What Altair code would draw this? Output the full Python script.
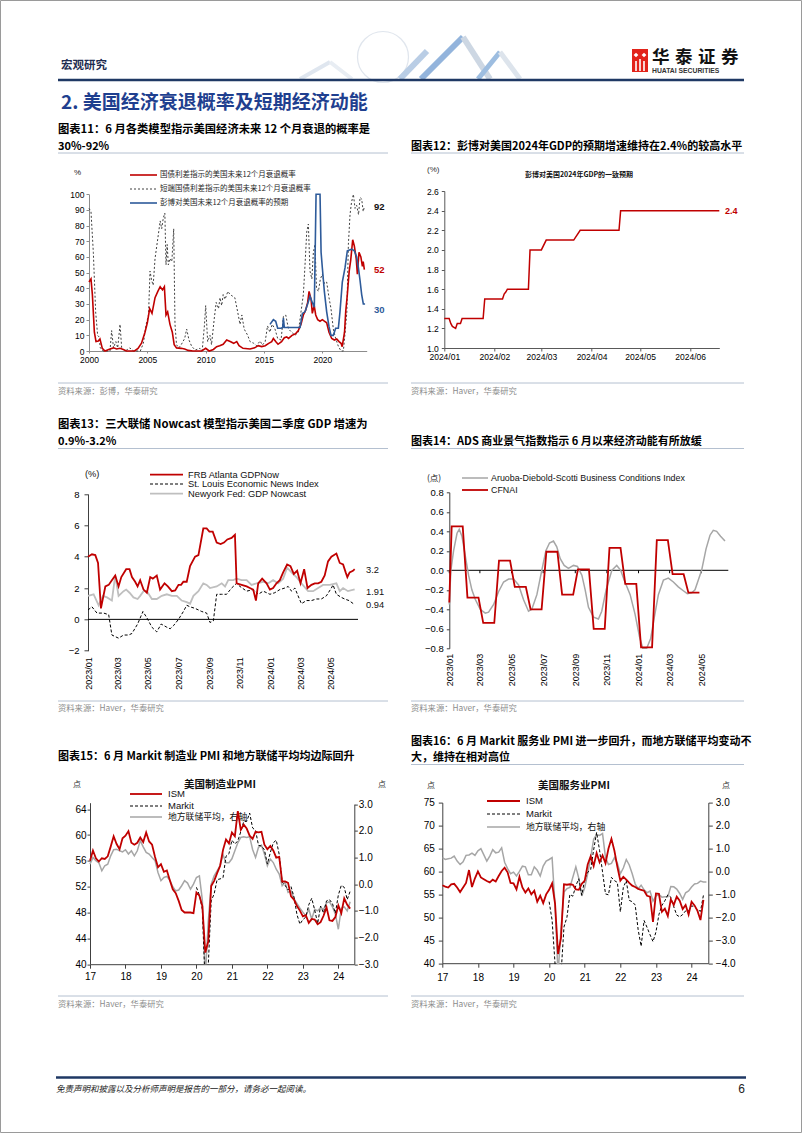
import altair as alt
import numpy as np
import pandas as pd

CJK = "Noto Sans CJK SC"
LAT = "Liberation Sans"
RED = "#c00000"
NAVY = "#1f3864"
GRAYL = "#a6a6a6"

# ---------------- Fig.11 : recession probability (year, %) ----------------
RATE_SPREAD_PROB = [(2000.0,44),(2000.17,46),(2000.29,36),(2000.46,12),(2000.6,6),(2000.8,6.4),(2000.94,7.7),(2001.14,1.7),(2001.37,0),(2001.8,1.3),(2002.1,2),(2002.37,1.3),(2002.66,1.7),(2002.94,0.9),(2003.2,0),(2003.9,0),(2004.2,1.7),(2004.5,5),(2004.8,12),(2005.0,18),(2005.2,27),(2005.4,24),(2005.66,34),(2005.9,38),(2006.1,41),(2006.3,39),(2006.46,41),(2006.6,23),(2006.74,25),(2006.94,17),(2007.14,12),(2007.3,4),(2007.5,2),(2007.9,1.7),(2008.2,1.3),(2008.5,0.4),(2008.9,0),(2009.66,0),(2010.0,1.7),(2010.3,0),(2010.66,1),(2010.94,2.8),(2011.2,3.4),(2011.5,4.3),(2011.8,7),(2012.1,6),(2012.4,4.9),(2012.66,6),(2012.86,3.4),(2013.2,1.7),(2013.8,1.3),(2014.2,2),(2014.5,3.4),(2014.8,2.8),(2015.1,3.4),(2015.4,4.9),(2015.66,6),(2015.8,8),(2016.0,6),(2016.2,4.3),(2016.5,6),(2016.74,8.5),(2016.94,9),(2017.1,8),(2017.4,10),(2017.7,11),(2017.94,13),(2018.17,17),(2018.37,23),(2018.57,26),(2018.74,31),(2018.86,38),(2019.03,33),(2019.14,24),(2019.3,29),(2019.43,23),(2019.6,20),(2019.8,19),(2020.0,20),(2020.17,19),(2020.37,18),(2020.57,12),(2020.8,8),(2021.03,7),(2021.23,7.7),(2021.43,6),(2021.6,4.9),(2021.7,2.8),(2021.9,12),(2022.0,25),(2022.14,36),(2022.3,51),(2022.43,58),(2022.6,71),(2022.74,67),(2022.9,59),(2023.0,49),(2023.14,63),(2023.3,60),(2023.43,54),(2023.5,57),(2023.6,52)]
SHORT_SPREAD_PROB = [(2000.0,91),(2000.17,89),(2000.37,63),(2000.57,25),(2000.74,10),(2000.86,9),(2000.97,2),(2001.2,0),(2001.8,0),(2001.94,13),(2002.1,2),(2002.3,6),(2002.46,2),(2002.66,17),(2002.8,2),(2003.1,0),(2003.5,2),(2003.8,0),(2004.4,0),(2004.66,5),(2004.9,17),(2005.1,23),(2005.23,51),(2005.37,45),(2005.5,42),(2005.66,59),(2005.9,72),(2006.1,83),(2006.23,78),(2006.37,85),(2006.5,88),(2006.6,55),(2006.7,68),(2006.8,55),(2006.94,59),(2007.1,57),(2007.26,78),(2007.37,17),(2007.5,4),(2007.7,2),(2007.9,4),(2008.2,8),(2008.37,14),(2008.57,7),(2008.8,3),(2009.1,0.6),(2009.5,1.7),(2009.7,0),(2009.9,17),(2010.0,29),(2010.17,6),(2010.37,10),(2010.5,4),(2010.74,21),(2010.9,31),(2011.1,27),(2011.23,34),(2011.37,29),(2011.5,36),(2011.66,33),(2011.9,38),(2012.1,36),(2012.3,35),(2012.5,34),(2012.74,25),(2012.94,17),(2013.1,23),(2013.3,14),(2013.6,10),(2013.8,6),(2014.1,5),(2014.37,3.4),(2014.66,6.4),(2014.86,3.8),(2015.1,6),(2015.3,16),(2015.5,12),(2015.7,17),(2015.94,14),(2016.17,8),(2016.46,7),(2016.66,22),(2016.86,23),(2017.1,14),(2017.37,12),(2017.66,10),(2017.94,12),(2018.17,25),(2018.37,36),(2018.5,53),(2018.66,76),(2018.8,81),(2018.94,51),(2019.1,46),(2019.23,63),(2019.37,68),(2019.5,40),(2019.66,38),(2019.83,46),(2020.0,49),(2020.17,43),(2020.37,44),(2020.57,34),(2020.74,27),(2020.94,14),(2021.14,8),(2021.37,3),(2021.6,0),(2021.8,0),(2021.94,11),(2022.1,25),(2022.23,68),(2022.37,87),(2022.5,95),(2022.66,100),(2022.8,91),(2022.94,93),(2023.1,87),(2023.23,98),(2023.37,97),(2023.5,89),(2023.6,92)]
BBG_PROB = [(2015.51,17),(2015.8,20),(2016.0,19),(2016.17,14.5),(2016.46,14.5),(2016.6,15),(2016.66,21),(2016.74,15),(2018.09,15),(2018.29,24),(2018.51,25),(2018.74,30),(2018.94,35),(2019.14,31),(2019.31,28),(2019.46,100),(2019.8,100),(2019.89,63),(2020.0,53),(2020.17,38),(2020.37,25),(2020.57,15.5),(2020.74,10),(2020.94,10),(2021.14,14.5),(2021.37,14.5),(2021.51,25),(2021.71,44),(2021.94,53),(2022.14,64),(2022.51,65),(2022.74,64),(2022.94,60),(2023.09,53),(2023.23,45),(2023.37,36),(2023.51,30),(2023.66,30)]

# ---------------- Fig.12 : Bloomberg consensus 2024 GDP (%) ----------------
GDP_DATES = ["2024-01-01","2024-01-04","2024-01-05","2024-01-06","2024-01-08","2024-01-09","2024-01-11","2024-01-12","2024-01-25","2024-01-26","2024-02-06","2024-02-07","2024-02-08","2024-02-09","2024-02-22","2024-02-23","2024-03-01","2024-03-04","2024-03-21","2024-03-25","2024-04-18","2024-04-19","2024-06-19"]
GDP_VALUES = [1.3,1.3,1.25,1.22,1.2,1.25,1.25,1.3,1.3,1.5,1.5,1.55,1.57,1.6,1.6,2.0,2.0,2.1,2.1,2.2,2.2,2.4,2.4]

# ---------------- Fig.13 : Nowcasts (months since 2023/01, %) ----------------
ATL_GDPNOW = [(0.0,4.0),(0.26,4.15),(0.48,4.1),(0.66,3.6),(0.85,0.7),(1.14,2.1),(1.36,2.2),(1.57,2.5),(1.79,2.8),(2.01,2.1),(2.19,2.7),(2.51,3.2),(2.73,3.2),(2.89,2.7),(3.10,2.4),(3.26,2.1),(3.43,2.5),(3.65,1.9),(3.87,1.7),(4.09,2.7),(4.26,2.6),(4.52,2.8),(4.74,1.9),(5.03,2.3),(5.25,2.1),(5.51,1.8),(5.73,1.85),(5.95,2.2),(6.12,2.2),(6.27,2.4),(6.49,2.4),(6.71,3.4),(7.04,4.0),(7.26,4.1),(7.58,5.8),(7.80,5.8),(7.98,5.6),(8.20,5.6),(8.46,4.9),(8.72,4.8),(8.94,4.9),(9.16,5.1),(9.44,5.2),(9.66,5.4),(9.77,2.3),(10.10,2.2),(10.43,2.1),(10.64,2.0),(10.86,1.9),(11.04,1.2),(11.19,2.3),(11.45,2.6),(11.74,2.3),(11.96,1.9),(12.17,2.0),(12.39,2.3),(12.61,2.5),(12.83,3.0),(13.09,3.5),(13.31,3.4),(13.53,2.9),(13.75,3.1),(13.97,2.3),(14.21,3.2),(14.43,2.0),(14.69,2.2),(14.91,2.3),(15.13,2.3),(15.34,2.4),(15.56,2.8),(15.78,3.7),(16.0,4.0),(16.33,4.2),(16.55,3.6),(16.77,3.5),(16.94,3.0),(17.05,2.7),(17.20,3.0),(17.42,3.1),(17.53,3.2)]
STL_NEWS = [(0.0,0.6),(0.26,0.8),(0.59,0.4),(1.03,0.4),(1.36,0.3),(1.57,-1.0),(1.79,-1.1),(2.01,-1.2),(2.34,-1.0),(2.67,-1.0),(2.89,-0.9),(3.26,-0.3),(3.61,0.5),(3.87,0.1),(4.20,-0.5),(4.52,-0.8),(4.81,-0.3),(5.18,-0.5),(5.40,-0.6),(5.62,-0.4),(5.95,0.0),(6.27,0.5),(6.49,0.9),(6.71,0.8),(7.04,0.7),(7.48,0.5),(7.80,0.4),(8.02,-0.2),(8.24,-0.1),(8.46,1.6),(8.79,1.6),(9.11,1.6),(9.44,2.0),(9.77,2.3),(9.99,2.1),(10.43,1.8),(10.86,1.9),(11.19,1.6),(11.52,1.8),(11.96,1.6),(12.28,1.7),(12.61,1.9),(12.94,2.0),(13.16,2.1),(13.38,1.8),(13.60,2.0),(13.81,1.5),(14.03,1.0),(14.36,1.2),(14.69,1.2),(15.02,1.3),(15.34,1.3),(15.67,1.5),(16.0,2.0),(16.11,2.2),(16.33,1.6),(16.66,1.4),(16.87,1.3),(17.16,1.2),(17.53,0.94)]
NY_NOWCAST = [(0.0,1.5),(0.37,1.6),(0.70,0.9),(0.98,1.5),(1.25,1.4),(1.57,1.2),(1.79,2.8),(2.01,1.5),(2.34,1.8),(2.51,1.9),(2.73,1.7),(2.99,1.4),(3.26,1.3),(3.43,1.5),(3.65,1.8),(3.87,1.8),(4.20,1.3),(4.52,1.3),(4.85,1.5),(5.18,1.6),(5.51,1.5),(5.84,1.5),(6.16,1.2),(6.49,1.1),(6.71,1.0),(6.93,1.5),(7.26,1.8),(7.58,2.3),(7.80,2.2),(8.02,2.0),(8.46,2.1),(8.79,2.3),(9.01,2.1),(9.22,2.5),(9.55,2.5),(9.77,2.6),(10.10,2.5),(10.43,2.5),(10.75,2.2),(11.08,2.3),(11.52,2.4),(11.85,2.3),(12.17,2.5),(12.50,2.3),(12.83,2.6),(13.09,3.3),(13.38,3.0),(13.70,2.7),(14.03,2.3),(14.47,1.8),(14.80,1.8),(15.13,2.0),(15.45,2.2),(15.89,2.2),(16.33,2.3),(16.55,1.8),(16.77,2.0),(17.09,1.8),(17.53,1.91)]

# ---------------- Fig.14 : ADS and CFNAI ----------------
ADS_INDEX = [(0.0,-0.35),(0.1,0.0),(0.27,0.2),(0.49,0.38),(0.63,0.42),(0.80,0.35),(1.01,0.15),(1.22,-0.05),(1.43,-0.2),(1.65,-0.3),(1.96,-0.4),(2.28,-0.44),(2.49,-0.43),(2.81,-0.35),(3.12,-0.22),(3.44,-0.12),(3.76,-0.09),(4.07,-0.09),(4.39,-0.15),(4.70,-0.3),(5.02,-0.42),(5.23,-0.4),(5.55,-0.25),(5.86,0.0),(6.12,0.2),(6.35,0.28),(6.60,0.3),(6.81,0.24),(7.03,0.12),(7.28,0.05),(7.55,0.02),(7.87,0.05),(8.12,0.04),(8.40,-0.05),(8.61,-0.2),(8.82,-0.38),(9.14,-0.48),(9.45,-0.5),(9.66,-0.42),(9.94,-0.2),(10.30,0.0),(10.61,0.05),(10.86,0.0),(11.08,-0.1),(11.46,-0.25),(11.77,-0.45),(12.05,-0.68),(12.26,-0.8),(12.51,-0.8),(12.76,-0.7),(12.97,-0.5),(13.25,-0.25),(13.57,-0.1),(13.88,-0.08),(14.20,-0.12),(14.51,-0.17),(14.83,-0.21),(15.08,-0.24),(15.36,-0.23),(15.57,-0.2),(15.78,-0.1),(15.99,0.0),(16.27,0.22),(16.52,0.36),(16.73,0.41),(16.94,0.4),(17.19,0.35),(17.47,0.3)]
CFNAI_DEC22 = -0.33
CFNAI_MONTHLY = [0.45,-0.28,-0.54,0.10,-0.17,-0.40,0.19,-0.25,0.01,-0.60,0.23,-0.14,-0.79,0.31,-0.04,-0.23]

# ---------------- Fig.15 : manufacturing PMI, monthly from 2017/01 ----------------
ISM_MFG = [56.0,57.6,56.4,55.9,56.4,56.3,56.7,58.2,59.8,58.6,57.8,59.5,
           59.9,60.6,58.8,58.5,58.8,59.6,58.9,60.4,59.0,58.5,56.6,55.0,
           55.5,54.3,54.5,53.0,51.6,51.0,49.8,48.4,48.0,48.0,48.0,47.9,
           51.1,50.6,49.0,41.8,43.5,52.1,52.9,54.1,55.2,57.7,59.3,58.7,
           60.4,59.8,63.7,60.8,61.6,61.0,59.9,59.4,60.5,60.4,60.5,58.5,
           57.8,58.3,57.6,56.5,56.6,52.8,52.8,52.6,50.5,50.0,49.0,48.3,
           47.4,47.6,46.4,47.0,46.9,46.2,46.5,47.5,48.8,46.8,46.7,47.3,
           49.1,47.9,50.2,49.2,48.6]
MARKIT_MFG_FROM_2020 = [51.9,50.7,48.5,36.1,39.8,49.8,50.9,53.1,53.2,53.4,56.7,57.1,
                        59.2,58.6,59.1,60.5,62.1,62.1,63.4,61.1,60.7,58.4,58.3,57.7,
                        55.5,57.3,58.8,59.2,57.0,52.7,52.2,51.5,52.0,50.4,47.7,46.2,
                        46.9,47.3,49.2,50.2,48.4,46.3,49.0,47.9,49.8,50.0,49.4,47.9,
                        50.7,52.2,51.9,50.0,51.3]
FED_MFG = [0.75,1.0,0.88,0.8,0.5,0.69,0.75,1.06,1.29,1.31,1.25,1.21,
           1.29,1.13,1.25,1.06,1.25,1.63,1.4,1.19,1.13,1.0,0.88,0.44,
           0.13,0.25,0.29,0.15,-0.1,-0.25,-0.22,-0.06,0.13,0.04,-0.19,0.0,
           0.25,0.31,-0.6,-3.5,-1.4,0.0,0.31,0.5,0.69,1.1,0.8,0.8,
           0.95,1.25,1.55,1.75,1.78,1.75,1.78,1.3,1.0,1.38,1.46,1.13,
           0.69,0.94,0.81,0.56,0.38,-0.06,0.06,-0.31,-0.25,-0.55,-0.72,-0.9,
           -1.05,-1.19,-0.94,-1.31,-0.94,-1.0,-0.88,-0.95,-0.7,-0.66,-0.85,-1.13,
           -1.69,-0.9,-0.85,-1.0,-0.66]

# ---------------- Fig.16 : services PMI, monthly from 2017/01 ----------------
ISM_SVC = [57.0,56.7,56.5,57.2,57.3,56.5,55.5,56.5,57.5,60.3,56.6,58.5,
           60.0,58.7,58.3,57.9,57.6,58.2,57.8,59.0,60.1,60.8,59.8,57.5,
           57.4,56.1,58.8,56.5,55.4,56.3,55.0,55.8,53.4,54.7,53.1,55.0,
           56.0,57.4,53.0,42.0,45.5,57.2,57.1,57.2,57.1,56.1,56.0,57.3,
           58.0,61.5,63.3,61.2,64.0,62.0,63.5,61.8,65.0,67.1,64.5,61.0,
           58.0,58.8,58.2,57.5,56.9,56.6,56.2,56.0,55.8,54.7,54.5,49.0,
           55.2,55.1,51.2,51.9,50.3,53.9,52.7,54.5,53.6,51.8,52.7,50.6,
           53.4,52.6,51.4,49.4,53.8]
MARKIT_SVC_FROM_2020 = [53.4,49.4,39.8,26.7,37.5,47.9,50.0,55.0,54.6,56.9,58.4,54.8,
                        58.3,59.8,60.4,64.7,68.5,64.6,59.9,55.1,54.9,58.7,58.0,57.6,
                        51.2,56.5,58.0,53.7,53.4,52.7,47.3,43.7,49.3,47.8,46.2,44.7,
                        46.8,50.6,52.6,53.6,54.9,54.4,52.3,50.5,50.1,50.6,51.4,51.4,
                        52.5,52.3,51.7,51.3,54.8]
FED_SVC = [0.6,0.52,0.55,0.58,0.67,0.45,0.3,0.42,0.7,0.72,0.8,0.7,
           0.9,0.99,0.72,0.45,0.67,0.95,0.81,0.84,1.03,0.4,0.12,-0.1,
           -0.03,-0.2,0.0,0.23,0.2,-0.15,-0.15,0.2,0.05,-0.2,0.23,0.45,
           0.52,0.6,-1.5,-4.5,-2.5,-0.9,-0.75,-0.7,-0.25,0.2,-0.3,-1.07,
           -0.7,-0.1,0.6,1.4,1.6,1.57,1.65,0.6,0.3,0.35,0.6,0.35,
           -0.1,0.15,0.52,0.28,-0.1,-0.55,-0.75,-0.6,-0.8,-0.93,-0.86,-1.29,
           -1.07,-1.0,-1.12,-1.1,-1.1,-0.66,-0.67,-0.77,-0.96,-1.22,-0.93,-0.85,
           -0.68,-0.55,-0.52,-0.42,-0.46,-0.46]

# ---------------- layout (page pixels) ----------------
OX, OY = 88.0, 191.0          # page position of the grid origin
CW1, CW2 = 278.7, 286.0       # column widths (page x 88-366.7 and 442-728)
SC = 75.3                     # column gap
H1 = 160.0                    # row 1 box: y 191 -> 351
G = 141.3                     # row gap
H2 = 168.1                    # row 2 box: y 492.3 -> 660.4
H3 = 161.6                    # row 3 box: y 801.7 -> 963.3

ONE = pd.DataFrame({"k": [0]})


def ms(s):
    return int(pd.Timestamp(s, tz="UTC").value // 10**6)


DAY = 86400000
BASE23 = ms("2023-01-01")


def mo(m):
    return BASE23 + m * 30.4375 * DAY


def T(s, x, y, size=9.0, color="#000000", font=CJK, weight="normal", align="left", style="normal"):
    return alt.Chart(ONE).mark_text(text=s, font=font, fontSize=size, color=color, fontWeight=weight,
                                    align=align, baseline="middle", fontStyle=style).encode(
        x=alt.value(x - OX), y=alt.value(y - OY))


def L(x1, y1, x2, y2, color, width=1.0, dash=None, opacity=1.0):
    kw = dict(color=color, strokeWidth=width, opacity=opacity)
    if dash:
        kw["strokeDash"] = dash
    return alt.Chart(ONE).mark_rule(**kw).encode(
        x=alt.value(x1 - OX), x2=alt.value(x2 - OX), y=alt.value(y1 - OY), y2=alt.value(y2 - OY))


def BOX(x1, y1, x2, y2, color):
    return alt.Chart(ONE).mark_rect(color=color).encode(
        x=alt.value(x1 - OX), x2=alt.value(x2 - OX), y=alt.value(y1 - OY), y2=alt.value(y2 - OY))


# ---------------- page decoration ----------------
deco = []
frame = alt.Chart(ONE).mark_rect(fillOpacity=0, stroke="#9a9a9a", strokeWidth=1).encode(
    x=alt.value(0.5 - OX), x2=alt.value(801.5 - OX), y=alt.value(0.5 - OY), y2=alt.value(1132.5 - OY))

# header graphic
deco.append(alt.Chart(ONE).mark_point(shape="circle", size=2600, filled=False, color="#d3dbe6", strokeWidth=1.2).encode(
    x=alt.value(383 - OX), y=alt.value(57 - OY)))
deco += [L(300, 79, 330, 62, "#dfe6ef", 4), L(330, 62, 352, 79, "#e8edf3", 4),
         L(400, 79, 427, 51, "#b9cde5", 6), L(421, 79, 463, 37, "#6f9bd0", 6, opacity=0.75),
         L(463, 37, 490, 79, "#cdd7e3", 6), L(478, 79, 500, 52, "#9dbde0", 5), L(500, 52, 520, 79, "#dde4ec", 5)]
# logo
deco += [BOX(632, 49, 648, 72, "#e2231a"),
         L(636, 61, 636, 71, "white", 1.6), L(640, 59, 640, 71, "white", 1.6), L(644, 61, 644, 71, "white", 1.6)]
deco.append(alt.Chart(ONE).mark_point(shape="diamond", size=22, filled=True, color="white", opacity=1).encode(
    x=alt.value(636 - OX), y=alt.value(55 - OY)))
deco.append(alt.Chart(ONE).mark_point(shape="diamond", size=22, filled=True, color="white", opacity=1).encode(
    x=alt.value(644 - OX), y=alt.value(55 - OY)))
for i, ch in enumerate("华泰证券"):
    deco.append(T(ch, 652 + i * 23, 58, 17.5, "#111111", weight="bold"))
deco.append(T("HUATAI SECURITIES", 652, 71, 6.8, "#333333", LAT, "bold"))
deco.append(T("宏观研究", 61, 66, 11.5, "#1f2d50", weight="bold"))
deco.append(L(58, 80, 744, 80, NAVY, 2.5))
deco.append(T("2.  美国经济衰退概率及短期经济动能", 61, 103, 19, "#1f3f8f", weight="bold"))

# figure titles
deco += [T("图表11：6 月各类模型指示美国经济未来 12 个月衰退的概率是", 58, 129.5, 11.3, weight="bold"),
         T("30%-92%", 58, 146.5, 11, weight="bold"),
         T("图表12：彭博对美国2024年GDP的预期增速维持在2.4%的较高水平", 411, 146.5, 11, weight="bold"),
         T("图表13：三大联储 Nowcast 模型指示美国二季度 GDP 增速为", 58, 425, 11.3, weight="bold"),
         T("0.9%-3.2%", 58, 441.7, 11, weight="bold"),
         T("图表14：ADS 商业景气指数指示 6 月以来经济动能有所放缓", 411, 441.7, 11, weight="bold"),
         T("图表15：6 月 Markit 制造业 PMI 和地方联储平均均边际回升", 58, 757, 11, weight="bold"),
         T("图表16：6 月 Markit 服务业 PMI 进一步回升，而地方联储平均变动不", 411, 741.7, 11, weight="bold"),
         T("大，维持在相对高位", 411, 757.7, 11, weight="bold")]
SEP = "#b4c0d0"
deco += [L(58, 153, 388, 153, SEP), L(411, 153, 744, 153, SEP),
         L(58, 448.5, 388, 448.5, SEP), L(411, 448.5, 744, 448.5, SEP),
         L(411, 764.5, 744, 764.5, SEP)]
# sources
SRC = "#8c8c8c"
deco += [L(58, 383, 388, 383, SEP), L(411, 383, 744, 383, SEP),
         T("资料来源：彭博，华泰研究", 58, 392, 8.3, SRC), T("资料来源：Haver，华泰研究", 411, 392, 8.3, SRC),
         L(58, 701, 388, 701, SEP), L(411, 701, 744, 701, SEP),
         T("资料来源：Haver，华泰研究", 58, 708.5, 8.3, SRC), T("资料来源：Haver，华泰研究", 411, 708.5, 8.3, SRC),
         L(58, 996, 388, 996, SEP), L(411, 996, 744, 996, SEP),
         T("资料来源：Haver，华泰研究", 58, 1004.5, 8.3, SRC), T("资料来源：Haver，华泰研究", 411, 1004.5, 8.3, SRC)]
# footer
deco += [L(56, 1077.5, 746, 1077.5, NAVY, 2.5),
         T("免责声明和披露以及分析师声明是报告的一部分，请务必一起阅读。", 56, 1089, 8.5, "#222222", style="italic"),
         T("6", 745, 1089, 12, "#222222", LAT, align="right")]

# fig 11 annotations
BLUE = "#2e5b9a"
deco += [T("%", 74, 173, 8, "#222222", LAT),
         L(130, 175, 157, 175, RED, 1.6), T("国债利差指示的美国未来12个月衰退概率", 160, 175, 7.5, "#262626"),
         L(130, 189, 157, 189, "#404040", 1, [2, 2]), T("短端国债利差指示的美国未来12个月衰退概率", 160, 189, 7.5, "#262626"),
         L(130, 203, 157, 203, BLUE, 1.6), T("彭博对美国未来12个月衰退概率的预期", 160, 203, 7.5, "#262626"),
         T("92", 374, 207, 9.5, "#111111", LAT, "bold"), T("52", 374, 270, 9.5, RED, LAT, "bold"),
         T("30", 374, 310, 9.5, BLUE, LAT, "bold")]
# fig 12 annotations
deco += [T("(%)", 427, 170, 8, "#333333", LAT),
         T("彭博对美国2024年GDP的一致预期", 579, 175, 7, "#111111", weight="bold", align="center"),
         T("2.4", 725, 211, 9, RED, LAT, "bold")]
# fig 13 annotations
deco += [T("(%)", 85, 474, 9.3, "#111111", LAT),
         L(150, 474.7, 183, 474.7, RED, 1.8), T("FRB Atlanta GDPNow", 188, 474.7, 9.3, "#111111", LAT),
         L(150, 484, 183, 484, "#000000", 1, [3, 2]), T("St. Louis Economic News Index", 188, 484, 9.3, "#111111", LAT),
         L(150, 493.7, 183, 493.7, "#bfbfbf", 1.8), T("Newyork Fed: GDP Nowcast", 188, 493.7, 9.3, "#111111", LAT),
         T("3.2", 366, 570, 9.3, "#111111", LAT), T("1.91", 366, 592, 9.3, "#111111", LAT),
         T("0.94", 366, 605, 9.3, "#111111", LAT)]
# fig 14 annotations
deco += [T("(点)", 427, 478, 8.5, "#111111"),
         L(462, 478, 488, 478, GRAYL, 1.5), T("Aruoba-Diebold-Scotti Business Conditions Index", 491, 478, 8.9, "#111111", LAT),
         L(462, 490, 488, 490, RED, 1.8), T("CFNAI", 491, 490, 8.9, "#111111", LAT)]
# fig 15 annotations
deco += [T("美国制造业PMI", 220, 785, 10.5, "#111111", weight="bold", align="center"),
         T("点", 73, 785, 8, "#333333"), T("点", 378, 785, 8, "#333333"),
         L(130, 794, 162, 794, RED, 1.8), T("ISM", 168, 794, 9.5, "#111111", LAT),
         L(130, 806, 162, 806, "#000000", 1, [3, 2]), T("Markit", 168, 806, 9.5, "#111111", LAT),
         L(130, 817, 162, 817, GRAYL, 1.5), T("地方联储平均，右轴", 168, 817, 8.8, "#111111")]
# fig 16 annotations
deco += [T("美国服务业PMI", 574, 786, 10.5, "#111111", weight="bold", align="center"),
         T("点", 427, 786, 8, "#333333"), T("点", 722, 786, 8, "#333333"),
         L(487, 801, 520, 801, RED, 1.8), T("ISM", 526, 801, 9.5, "#111111", LAT),
         L(487, 814, 520, 814, "#000000", 1, [3, 2]), T("Markit", 526, 814, 9.5, "#111111", LAT),
         L(487, 827, 520, 827, GRAYL, 1.5), T("地方联储平均，右轴", 526, 827, 8.8, "#111111")]


def pairs(p, xname="x"):
    return pd.DataFrame({xname: [a for a, _ in p], "y": [b for _, b in p]})


# ---------------- Fig.11 (page x 89-366.7) ----------------
X11 = alt.X("x:Q", scale=alt.Scale(domain=[2000, 2023.8], range=[1, CW1], nice=False, zero=False),
            axis=alt.Axis(values=[2000, 2005, 2010, 2015, 2020], format="d", title=None, grid=False,
                          domainColor="#8c8c8c", tickColor="#8c8c8c", tickSize=2, labelPadding=2.5, labelFontSize=8.5))
Y11 = alt.Y("y:Q", scale=alt.Scale(domain=[0, 100], range=[H1, 3.3], nice=False),
            axis=alt.Axis(values=list(range(0, 101, 10)), title=None, grid=False, offset=-1,
                          domainColor="#8c8c8c", tickColor="#8c8c8c", tickSize=3, labelPadding=2, labelFontSize=8.5))
c11 = alt.layer(
    frame,
    alt.Chart(pairs(SHORT_SPREAD_PROB)).mark_line(color="#404040", strokeWidth=1, strokeDash=[2, 2]).encode(x=X11, y=Y11),
    alt.Chart(pairs(RATE_SPREAD_PROB)).mark_line(color=RED, strokeWidth=1.6).encode(x=X11, y=Y11),
    alt.Chart(pairs(BBG_PROB)).mark_line(color=BLUE, strokeWidth=1.6).encode(x=X11, y=Y11),
    *deco
).properties(width=CW1, height=H1)

# ---------------- Fig.12 (page x 444-719) ----------------
df12 = pd.DataFrame({"t": [ms(d) for d in GDP_DATES], "y": GDP_VALUES})
X12 = alt.X("t:T", scale=alt.Scale(type="utc", domain=[ms("2024-01-01"), ms("2024-06-19")], range=[2, 277], nice=False),
            axis=alt.Axis(values=[ms(f"2024-{m:02d}-01") for m in range(1, 7)],
                          labelExpr="utcFormat(datum.value, '%Y/%m')",
                          title=None, grid=False, offset=-3, domainColor="#595959", tickColor="#595959",
                          tickSize=3, labelPadding=1.8, labelFontSize=8.5))
Y12 = alt.Y("y:Q", scale=alt.Scale(domain=[1.0, 2.6], range=[157, 0], nice=False, zero=False),
            axis=alt.Axis(values=[1.0, 1.2, 1.4, 1.6, 1.8, 2.0, 2.2, 2.4, 2.6], format=".1f", title=None, grid=False,
                          offset=-2, domainColor="#595959", tickColor="#595959", tickSize=3, labelPadding=3,
                          labelFontSize=8.5))
c12 = alt.Chart(df12).mark_line(color=RED, strokeWidth=1.5).encode(x=X12, y=Y12).properties(width=CW2, height=H1)

# ---------------- Fig.13 (page x 88-358) ----------------
TWO_MONTHS = ["2023-01-01", "2023-03-01", "2023-05-01", "2023-07-01", "2023-09-01", "2023-11-01",
              "2024-01-01", "2024-03-01", "2024-05-01"]


def pairs_t(p):
    return pd.DataFrame({"t": [mo(a) for a, _ in p], "y": [b for _, b in p]})


DOM13 = [mo(0), mo(17.75)]
X13 = alt.X("t:T", scale=alt.Scale(type="utc", domain=DOM13, range=[0, 270], nice=False),
            axis=alt.Axis(values=[ms(d) for d in TWO_MONTHS], labelExpr="utcFormat(datum.value, '%Y/%m')",
                          labelAngle=270, domain=False, ticks=False, labelPadding=6, offset=-(H2 - 158.4),
                          title=None, grid=False, labelFontSize=9))
SC13Y = alt.Scale(domain=[-2, 8], range=[158.4, 1.7], nice=False)
AX13Y = alt.Axis(values=[-2, 0, 2, 4, 6, 8], title=None, grid=False, domainColor="#404040",
                 tickColor="#404040", tickSize=4, labelPadding=5, labelFontSize=9.5)
Y13 = alt.Y("y:Q", scale=SC13Y, axis=AX13Y)
c13 = alt.layer(
    alt.Chart(ONE).mark_rule(color="#000000", strokeWidth=1).encode(
        x=alt.value(0), x2=alt.value(270), y=alt.Y(datum=0, scale=SC13Y, axis=AX13Y)),
    alt.Chart(pairs_t(NY_NOWCAST)).mark_line(color="#bfbfbf", strokeWidth=1.8).encode(x=X13, y=Y13),
    alt.Chart(pairs_t(STL_NEWS)).mark_line(color="#000000", strokeWidth=1, strokeDash=[3, 2]).encode(x=X13, y=Y13),
    alt.Chart(pairs_t(ATL_GDPNOW)).mark_line(color=RED, strokeWidth=1.8).encode(x=X13, y=Y13),
).properties(width=CW1, height=H2)

# ---------------- Fig.14 (page x 449-728) ----------------
cf_pts = [(0.0, CFNAI_DEC22)]
for i, v in enumerate(CFNAI_MONTHLY):
    cf_pts += [(i + 0.15, v), (i + 0.85, v)]
SC14Y = alt.Scale(domain=[-0.8, 0.8], range=[156, 0], nice=False)
AX14Y = alt.Axis(values=[-0.8, -0.6, -0.4, -0.2, 0.0, 0.2, 0.4, 0.6, 0.8], format=".1f", title=None, grid=False,
                 offset=-7, domainColor="#404040", tickColor="#404040", tickSize=3, labelPadding=3, labelFontSize=9.5)
X14 = alt.X("t:T", scale=alt.Scale(type="utc", domain=[mo(0), mo(17.68)], range=[7, CW2], nice=False),
            axis=alt.Axis(values=[ms(d) for d in TWO_MONTHS], labelExpr="utcFormat(datum.value, '%Y/%m')",
                          labelAngle=270, domain=False, ticks=False, labelPadding=5, offset=-(H2 - 156),
                          title=None, grid=False, labelFontSize=9))
Y14 = alt.Y("y:Q", scale=SC14Y, axis=AX14Y)
c14 = alt.layer(
    alt.Chart(ONE).mark_rule(color="#000000", strokeWidth=1).encode(
        x=alt.value(7), x2=alt.value(CW2), y=alt.Y(datum=0, scale=SC14Y, axis=AX14Y)),
    alt.Chart(pd.DataFrame({"t": [ms(d) for d in TWO_MONTHS]})).mark_rule(color="#000000", strokeWidth=1).encode(
        x=X14, y=alt.Y(datum=0, scale=SC14Y, axis=AX14Y), y2=alt.Y2(datum=-0.03)),
    alt.Chart(pairs_t(ADS_INDEX)).mark_line(color=GRAYL, strokeWidth=1.5).encode(x=X14, y=Y14),
    alt.Chart(pairs_t(cf_pts)).mark_line(color=RED, strokeWidth=1.8).encode(x=X14, y=Y14),
).properties(width=CW2, height=H2)


# ---------------- Fig.15 / Fig.16 ----------------
def monthly(vals, start_month=0):
    return pd.DataFrame({"x": [2017 + (start_month + i) / 12 for i in range(len(vals))], "y": vals})


def pmi_chart(CW, H, xend, xlp, x0, x1, left_dom, left_vals, left_range, right_dom, right_vals, right_range,
              ism, markit, fed, left_lp, right_lp, left_ts, right_ts):
    X = alt.X("x:Q", scale=alt.Scale(domain=[2017, xend], range=[x0, x1], nice=False, zero=False),
              axis=alt.Axis(values=list(range(2017, 2025)), format="d", labelExpr="substring(datum.label, 2)",
                            title=None, grid=False, domainColor="#404040", tickColor="#404040", tickSize=4,
                            labelPadding=xlp, offset=-(H - left_range[0]), labelFontSize=10))
    YL = alt.Y("y:Q", scale=alt.Scale(domain=left_dom, range=left_range, nice=False, zero=False),
               axis=alt.Axis(values=left_vals, orient="left", title=None, grid=False, domainColor="#404040",
                             tickColor="#404040", tickSize=left_ts, labelPadding=left_lp, offset=-x0,
                             labelFontSize=10))
    YR = alt.Y("y:Q", scale=alt.Scale(domain=right_dom, range=right_range, nice=False, zero=False),
               axis=alt.Axis(values=right_vals, format=".1f", orient="right", title=None, grid=False,
                             domainColor="#404040", tickColor="#404040", tickSize=right_ts, labelPadding=right_lp,
                             offset=-(CW - x1), labelFontSize=10))
    gray = alt.Chart(monthly(fed)).mark_line(color=GRAYL, strokeWidth=1.5, clip=True).encode(x=X, y=YR)
    left = alt.layer(
        alt.Chart(monthly(markit, 36)).mark_line(color="#000000", strokeWidth=1, strokeDash=[3, 2], clip=True).encode(x=X, y=YL),
        alt.Chart(monthly(ism)).mark_line(color=RED, strokeWidth=1.8, clip=True).encode(x=X, y=YL),
    )
    return alt.layer(gray, left).resolve_scale(y="independent").properties(width=CW, height=H)


# fig 15: page x 90-354.3 ; fig 16: page x 442-708
c15 = pmi_chart(CW1, H3, 2024.45, 3, 2, 266.3, [40, 65], list(range(40, 65, 4)), [H3, 0.1], [-3, 3],
                [-3, -2, -1, 0, 1, 2, 3], [H3, 1.5], ISM_MFG, MARKIT_MFG_FROM_2020, FED_MFG, 1, 1, 3, 3)
c16 = pmi_chart(CW2, H3, 2024.47, 5, 0, 266, [40, 75], list(range(40, 76, 5)), [160.6, 0], [-4, 3],
                [-4, -3, -2, -1, 0, 1, 2, 3], [160.6, 0], ISM_SVC, MARKIT_SVC_FROM_2020, FED_SVC, 4, 3, 4, 4)

chart = alt.concat(c11, c12, c13, c14, c15, c16, columns=2, spacing={"row": G, "column": SC},
                   bounds="flush").properties(
    padding=0, background="white"
).configure_view(strokeWidth=0).configure_axis(
    labelFont=LAT, labelColor="#000000", labelFlush=False, labelOverlap=False)

chart.save("out.html", embed_options={"renderer": "svg", "actions": False})
